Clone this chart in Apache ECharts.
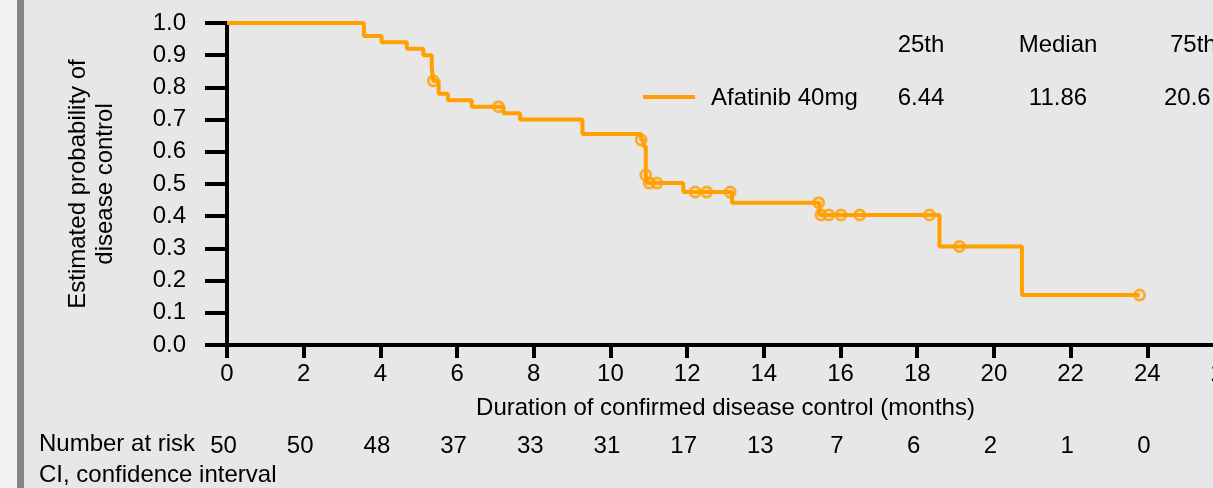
<!DOCTYPE html>
<html><head><meta charset="utf-8">
<script src="https://cdn.jsdelivr.net/npm/echarts@6/dist/echarts.min.js"></script>
<style>html,body{margin:0;padding:0;background:#e7e7e7}#c{width:1213px;height:488px}</style>
</head><body><div id="c"></div>
<script>
const stepTimes = [0, 3.57, 4.03, 4.69, 5.12, 5.34, 5.38, 5.52, 5.76, 6.38, 7.21, 7.64, 9.27, 10.80, 10.86, 10.92, 10.96, 11.90, 13.17, 15.45, 18.58, 20.73, 23.80];
const stepSurv  = [1.0, 0.96, 0.94, 0.92, 0.90, 0.86, 0.82, 0.78, 0.76, 0.74, 0.72, 0.70, 0.655, 0.637, 0.617, 0.528, 0.503, 0.475, 0.442, 0.404, 0.306, 0.155, 0.155];
const censorTimes = [5.38, 7.08, 10.80, 10.92, 11.01, 11.21, 12.21, 12.51, 13.12, 15.43, 15.49, 15.69, 16.01, 16.50, 18.32, 19.10, 23.80];
const censorSurv  = [0.82, 0.74, 0.637, 0.528, 0.503, 0.503, 0.475, 0.475, 0.475, 0.442, 0.404, 0.404, 0.404, 0.404, 0.404, 0.306, 0.155];
const riskTimes = [0, 2, 4, 6, 8, 10, 12, 14, 16, 18, 20, 22, 24];
const riskCounts = [50, 50, 48, 37, 33, 31, 17, 13, 7, 6, 2, 1, 0];
const tableHeader = ['25th', 'Median', '75th'];
const tableValues = ['6.44', '11.86', '20.6'];
const seriesName = 'Afatinib 40mg';

const ORANGE = '#FF9F00';
const FONT = 'Liberation Sans, Arial, sans-serif';
const FS = 24;

const chart = echarts.init(document.getElementById('c'), null, {renderer: 'canvas'});
const stepData = stepTimes.map((t, i) => [t, stepSurv[i]]);
const censorData = censorTimes.map((t, i) => [t, censorSurv[i]]);

const colX = [921, 1058, 1192];
const graphics = [
  {type: 'rect', shape: {x: 0, y: 0, width: 17, height: 488}, style: {fill: '#f2f2f2'}, z: -1},
  {type: 'rect', shape: {x: 17, y: 0, width: 7, height: 488}, style: {fill: '#858585'}, z: -1},
  {type: 'text', x: 39, y: 444, style: {text: 'Number at risk', font: FS + 'px ' + FONT, fill: '#000', textVerticalAlign: 'middle'}},
  {type: 'text', x: 39, y: 475, style: {text: 'CI, confidence interval', font: FS + 'px ' + FONT, fill: '#000', textVerticalAlign: 'middle'}},
  {type: 'line', shape: {x1: 643, y1: 97, x2: 695, y2: 97}, style: {stroke: ORANGE, lineWidth: 4}},
  {type: 'text', x: 711, y: 98, style: {text: seriesName, font: FS + 'px ' + FONT, fill: '#000', textVerticalAlign: 'middle'}}
];
tableHeader.forEach((h, i) => graphics.push({type: 'text', x: i === 2 ? 1170 : colX[i], y: 45, style: {text: h, font: FS + 'px ' + FONT, fill: '#000', textAlign: i === 2 ? 'left' : 'center', textVerticalAlign: 'middle'}}));
tableValues.forEach((v, i) => graphics.push({type: 'text', x: i === 2 ? 1164 : colX[i], y: 98, style: {text: v, font: FS + 'px ' + FONT, fill: '#000', textAlign: i === 2 ? 'left' : 'center', textVerticalAlign: 'middle'}}));

chart.setOption({
  backgroundColor: '#e7e7e7',
  animation: false,
  textStyle: {fontFamily: FONT},
  grid: {left: 227, width: 997, top: 23, height: 322, containLabel: false, outerBoundsMode: 'none'},
  xAxis: [{
    type: 'value', min: 0, max: 26, interval: 2,
    name: 'Duration of confirmed disease control (months)', nameLocation: 'middle', nameGap: 51,
    nameTextStyle: {fontSize: FS, color: '#000', fontFamily: FONT},
    axisLine: {show: true, onZero: false, lineStyle: {color: '#000', width: 4}},
    axisTick: {show: true, length: 13, lineStyle: {color: '#000', width: 4}},
    axisLabel: {fontSize: FS, color: '#000', margin: 17, fontFamily: FONT},
    splitLine: {show: false}
  }, {
    type: 'value', min: 0, max: 26, interval: 2, position: 'bottom',
    axisLine: {show: false}, axisTick: {show: false}, splitLine: {show: false},
    axisLabel: {fontSize: FS, color: '#000', margin: 89, fontFamily: FONT, padding: [0, 7, 0, 0],
      formatter: v => { const i = riskTimes.indexOf(v); return i >= 0 ? String(riskCounts[i]) : ''; }}
  }],
  yAxis: {
    type: 'value', min: 0, max: 1, interval: 0.1,
    name: 'Estimated probability of\ndisease control', nameLocation: 'middle', nameGap: 108, nameRotate: 90,
    nameTextStyle: {fontSize: FS, color: '#000', lineHeight: 27, fontFamily: FONT},
    axisLine: {show: true, lineStyle: {color: '#000', width: 4}},
    axisTick: {show: true, length: 22, lineStyle: {color: '#000', width: 4}},
    axisLabel: {fontSize: FS, color: '#000', margin: 41, formatter: v => v.toFixed(1), fontFamily: FONT},
    splitLine: {show: false}
  },
  series: [{
    name: seriesName, type: 'line', step: 'end', data: stepData,
    showSymbol: false, symbol: 'none', lineStyle: {color: ORANGE, width: 4}, z: 3
  }, {
    name: 'Censored', type: 'scatter', data: censorData,
    symbol: 'circle', symbolSize: 10,
    itemStyle: {color: 'rgba(0,0,0,0)', borderColor: ORANGE, borderWidth: 3}, z: 4
  }],
  graphic: graphics
});
</script></body></html>
